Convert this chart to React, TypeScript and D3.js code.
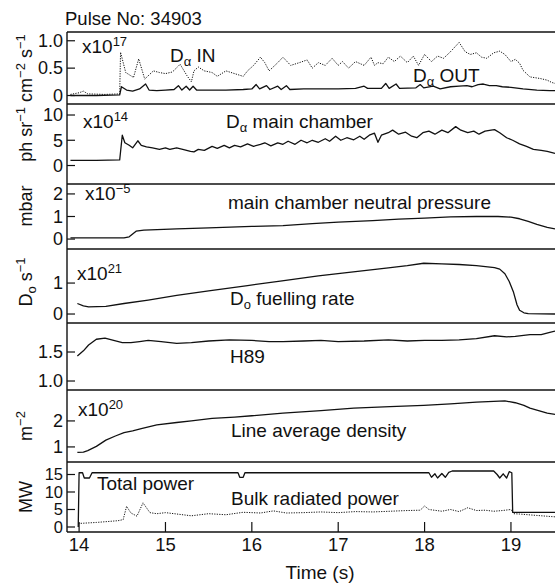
import React from 'react';
import * as d3 from 'd3';

type Pt = [number, number];

// time axis
const timeTicks = [14, 15, 16, 17, 18, 19];

// panel 1: D-alpha in / out (x1e17 ph sr-1 cm-2 s-1)
const daIn: Pt[] = [
  [13.9, 0.02], [14.0, 0.05], [14.05, 0.08], [14.1, 0.03], [14.3, 0.02], [14.47, 0.03], [14.48, 0.79],
  [14.54, 0.42], [14.63, 0.33], [14.69, 0.67], [14.76, 0.3], [14.86, 0.45], [14.93, 0.42], [15.0, 0.4],
  [15.08, 0.43], [15.17, 0.57], [15.25, 0.36], [15.3, 0.25], [15.33, 0.45], [15.38, 0.52], [15.45, 0.45],
  [15.54, 0.42], [15.6, 0.35], [15.7, 0.45], [15.8, 0.4], [15.9, 0.35], [15.95, 0.45], [16.02, 0.55],
  [16.1, 0.7], [16.15, 0.6], [16.2, 0.45], [16.3, 0.6], [16.36, 0.7], [16.45, 0.55], [16.55, 0.6],
  [16.64, 0.65], [16.7, 0.5], [16.77, 0.6], [16.85, 0.55], [16.93, 0.68], [17.0, 0.55], [17.05, 0.62],
  [17.12, 0.5], [17.2, 0.62], [17.3, 0.55], [17.38, 0.7], [17.42, 0.55], [17.46, 0.6], [17.52, 0.58],
  [17.58, 0.7], [17.65, 0.62], [17.72, 0.72], [17.8, 0.6], [17.87, 0.72], [17.93, 0.55], [18.0, 0.75],
  [18.08, 0.62], [18.15, 0.72], [18.22, 0.68], [18.3, 0.8], [18.4, 0.97], [18.47, 0.8], [18.53, 0.75],
  [18.6, 0.78], [18.66, 0.7], [18.72, 0.68], [18.8, 0.78], [18.87, 0.81], [18.93, 0.75], [19.0, 0.62],
  [19.05, 0.66], [19.1, 0.59], [19.14, 0.46], [19.22, 0.34], [19.34, 0.31], [19.42, 0.28], [19.47, 0.24],
  [19.51, 0.22],
];
const daOut: Pt[] = [
  [13.9, 0.0], [14.2, 0.0], [14.47, 0.01], [14.49, 0.16], [14.55, 0.1], [14.62, 0.08], [14.7, 0.12],
  [14.77, 0.21], [14.81, 0.1], [14.9, 0.09], [15.0, 0.1], [15.1, 0.11], [15.15, 0.18], [15.19, 0.1],
  [15.24, 0.17], [15.28, 0.1], [15.32, 0.17], [15.36, 0.1], [15.5, 0.1], [15.7, 0.1], [15.9, 0.11],
  [16.0, 0.12], [16.05, 0.2], [16.09, 0.12], [16.17, 0.18], [16.21, 0.11], [16.3, 0.17], [16.34, 0.11],
  [16.4, 0.18], [16.44, 0.11], [16.6, 0.12], [16.8, 0.12], [17.0, 0.12], [17.2, 0.13], [17.3, 0.17],
  [17.34, 0.13], [17.5, 0.13], [17.55, 0.22], [17.59, 0.13], [17.67, 0.21], [17.71, 0.13], [17.9, 0.14],
  [17.95, 0.2], [17.99, 0.14], [18.1, 0.17], [18.18, 0.12], [18.3, 0.16], [18.4, 0.17], [18.49, 0.18],
  [18.55, 0.16], [18.62, 0.2], [18.68, 0.21], [18.75, 0.18], [18.83, 0.18], [18.9, 0.16], [19.0, 0.15],
  [19.14, 0.12], [19.3, 0.1], [19.45, 0.09], [19.51, 0.09],
];

// panel 2: D-alpha main chamber (x1e14)
const daMain: Pt[] = [
  [13.9, 1.0], [14.2, 1.0], [14.47, 1.1], [14.5, 6.0], [14.53, 4.5], [14.58, 4.0], [14.62, 3.5],
  [14.68, 4.9], [14.72, 4.0], [14.78, 3.7], [14.85, 3.5], [14.93, 3.2], [15.0, 3.5], [15.05, 3.2],
  [15.13, 3.5], [15.2, 3.2], [15.29, 2.8], [15.33, 2.7], [15.38, 3.2], [15.45, 3.0], [15.54, 3.8],
  [15.6, 3.4], [15.68, 4.0], [15.74, 3.5], [15.8, 4.0], [15.87, 3.7], [15.95, 4.3], [16.02, 3.8],
  [16.1, 4.2], [16.15, 4.5], [16.22, 3.9], [16.3, 4.5], [16.36, 4.2], [16.42, 4.8], [16.5, 4.2],
  [16.57, 5.0], [16.64, 4.5], [16.7, 5.0], [16.77, 4.6], [16.85, 5.3], [16.9, 4.8], [16.97, 5.8],
  [17.03, 5.0], [17.1, 5.5], [17.18, 5.1], [17.25, 5.8], [17.3, 5.2], [17.36, 6.0], [17.42, 6.4],
  [17.46, 4.6], [17.5, 6.0], [17.58, 6.5], [17.63, 7.0], [17.7, 6.2], [17.78, 6.6], [17.85, 5.8],
  [17.91, 5.5], [17.98, 6.5], [18.05, 6.8], [18.12, 6.2], [18.2, 7.0], [18.27, 6.5], [18.36, 7.7],
  [18.42, 7.0], [18.5, 6.5], [18.57, 6.8], [18.63, 6.2], [18.7, 6.8], [18.77, 7.0], [18.81, 7.1],
  [18.87, 6.5], [18.95, 5.5], [19.02, 5.0], [19.1, 4.3], [19.18, 3.8], [19.26, 3.2], [19.35, 3.0],
  [19.42, 2.8], [19.51, 2.4],
];

// panel 3: main chamber neutral pressure (x1e-5 mbar)
const pressure: Pt[] = [
  [13.9, 0.05], [14.52, 0.05], [14.58, 0.1], [14.66, 0.35], [14.75, 0.4], [15.13, 0.45], [15.5, 0.5],
  [16.0, 0.56], [16.36, 0.6], [16.7, 0.68], [17.0, 0.75], [17.4, 0.82], [17.7, 0.88], [18.0, 0.93],
  [18.3, 0.98], [18.6, 1.0], [18.85, 1.0], [19.0, 0.97], [19.1, 0.9], [19.2, 0.78], [19.3, 0.65],
  [19.42, 0.52], [19.51, 0.45],
];

// panel 4: D0 fuelling rate (x1e21 s-1)
const fuelling: Pt[] = [
  [13.98, 0.34], [14.05, 0.26], [14.11, 0.23], [14.31, 0.25], [14.52, 0.34], [14.8, 0.45], [15.13, 0.6],
  [15.5, 0.75], [15.95, 0.92], [16.35, 1.07], [16.77, 1.23], [17.2, 1.37], [17.58, 1.49], [17.8, 1.56],
  [17.99, 1.64], [18.2, 1.62], [18.4, 1.6], [18.6, 1.56], [18.81, 1.5], [18.87, 1.45], [18.93, 1.3],
  [18.98, 1.05], [19.03, 0.7], [19.07, 0.3], [19.1, 0.12], [19.15, 0.04], [19.2, 0.01], [19.51, 0.0],
];

// panel 5: H89
const h89: Pt[] = [
  [13.98, 1.43], [14.05, 1.52], [14.11, 1.62], [14.2, 1.72], [14.3, 1.74], [14.4, 1.7], [14.5, 1.66],
  [14.6, 1.66], [14.7, 1.68], [14.8, 1.7], [14.95, 1.68], [15.13, 1.65], [15.3, 1.66], [15.5, 1.69],
  [15.74, 1.71], [16.0, 1.7], [16.2, 1.68], [16.36, 1.68], [16.6, 1.69], [16.8, 1.7], [17.0, 1.68],
  [17.3, 1.69], [17.58, 1.71], [17.8, 1.69], [18.0, 1.7], [18.2, 1.7], [18.4, 1.71], [18.6, 1.73],
  [18.81, 1.78], [18.95, 1.76], [19.05, 1.77], [19.22, 1.8], [19.35, 1.8], [19.45, 1.84], [19.51, 1.86],
];

// panel 6: line average density (x1e20 m-2)
const density: Pt[] = [
  [13.98, 0.79], [14.05, 0.8], [14.1, 0.86], [14.2, 1.02], [14.31, 1.26], [14.42, 1.42], [14.52, 1.55],
  [14.62, 1.62], [14.72, 1.7], [14.9, 1.85], [15.13, 1.94], [15.3, 2.0], [15.54, 2.1], [15.8, 2.15],
  [16.0, 2.2], [16.36, 2.3], [16.8, 2.4], [17.18, 2.49], [17.6, 2.55], [17.99, 2.6], [18.3, 2.66],
  [18.6, 2.72], [18.8, 2.75], [18.93, 2.77], [19.05, 2.7], [19.15, 2.6], [19.22, 2.49], [19.32, 2.4],
  [19.42, 2.3], [19.51, 2.25],
];

// panel 7: total power / bulk radiated power (MW)
const totalPower: Pt[] = [
  [13.99, 0], [14.0, 15.5], [14.04, 15.5], [14.06, 14.0], [14.12, 14.0], [14.15, 15.5], [15.84, 15.5],
  [15.86, 14.2], [15.9, 14.2], [15.92, 15.5], [18.05, 15.5], [18.08, 14.2], [18.12, 15.2], [18.15, 14.0],
  [18.2, 15.3], [18.24, 14.2], [18.28, 15.6], [18.32, 16.0], [18.8, 16.0], [18.84, 15.0], [18.87, 14.0],
  [18.91, 15.2], [18.95, 14.0], [18.98, 15.8], [19.01, 15.5], [19.02, 4.2], [19.51, 4.2],
];
const bulkRad: Pt[] = [
  [13.99, 1.0], [14.2, 1.3], [14.45, 1.8], [14.51, 2.1], [14.55, 5.9], [14.6, 4.0], [14.67, 3.1],
  [14.74, 6.9], [14.82, 4.1], [14.9, 3.8], [15.0, 4.1], [15.1, 3.8], [15.3, 3.2], [15.5, 3.8],
  [15.7, 3.5], [15.9, 4.2], [16.1, 4.0], [16.25, 4.6], [16.4, 4.0], [16.6, 4.1], [16.8, 4.3],
  [17.0, 4.1], [17.2, 4.4], [17.4, 4.3], [17.6, 4.5], [17.8, 4.7], [17.95, 4.8], [18.0, 6.0],
  [18.05, 5.0], [18.2, 4.5], [18.3, 5.0], [18.4, 4.4], [18.5, 5.5], [18.6, 4.7], [18.7, 4.8],
  [18.8, 4.5], [18.9, 4.7], [19.0, 5.0], [19.03, 3.8], [19.1, 3.7], [19.3, 3.3], [19.51, 2.9],
];

const FONT = '"Liberation Sans", Arial, Helvetica, sans-serif';
const AX = 67;
const RIGHT = 555;
const BOTTOM = 532;
const SM = 13; // sub/superscript size

const x = d3.scaleLinear().domain([13.86, 19.51]).range([AX, RIGHT]);

interface Panel {
  top: number;
  bottom: number;
  domain: [number, number];
  ticks: number[];
  labels: string[];
  tickSize: number;
  series: { data: Pt[]; dotted?: boolean }[];
}

const panels: Panel[] = [
  { top: 32, bottom: 104, domain: [-0.155, 1.16], ticks: [1, 0.5, 0], labels: ['1.0', '0.5', '0'], tickSize: 18,
    series: [{ data: daIn, dotted: true }, { data: daOut }] },
  { top: 104, bottom: 184, domain: [-3.66, 12.18], ticks: [10, 5, 0], labels: ['10', '5', '0'], tickSize: 18,
    series: [{ data: daMain }] },
  { top: 184, bottom: 249, domain: [-0.44, 2.44], ticks: [2, 1, 0], labels: ['2', '1', '0'], tickSize: 18,
    series: [{ data: pressure }] },
  { top: 249, bottom: 323, domain: [-0.29, 2.1], ticks: [1, 0], labels: ['1', '0'], tickSize: 18,
    series: [{ data: fuelling }] },
  { top: 323, bottom: 390, domain: [0.845, 2.0], ticks: [1.5, 1.0], labels: ['1.5', '1.0'], tickSize: 18,
    series: [{ data: h89 }] },
  { top: 390, bottom: 462, domain: [0.42, 3.19], ticks: [2, 1], labels: ['2', '1'], tickSize: 18,
    series: [{ data: density }] },
  { top: 462, bottom: BOTTOM, domain: [-1.43, 18.57], ticks: [15, 10, 5, 0], labels: ['15', '10', '5', '0'], tickSize: 16.5,
    series: [{ data: totalPower }, { data: bulkRad, dotted: true }] },
];

export default function App() {
  return (
    <svg width={555} height={586} style={{ position: 'absolute', left: 0, top: 0, background: '#fff' }}
      fontFamily={FONT} fill="#111">
      <defs>
        <clipPath id="plotclip"><rect x={AX} y={32} width={RIGHT - AX} height={BOTTOM - 32} /></clipPath>
      </defs>
      <text x={65} y={25} fontSize={18.5}>Pulse No: 34903</text>

      {panels.map((p, i) => {
        const y = d3.scaleLinear().domain(p.domain).range([p.bottom, p.top]);
        const line = d3.line<Pt>().x(d => x(d[0])).y(d => y(d[1]));
        return (
          <g key={i}>
            {p.series.map((s, j) => (
              <path key={j} d={line(s.data) || ''} fill="none" stroke="#111"
                strokeWidth={s.dotted ? 1 : 1.3} strokeDasharray={s.dotted ? '1.2,1.3' : undefined}
                strokeLinejoin="round" clipPath="url(#plotclip)" />
            ))}
            {p.ticks.map((t, k) => (
              <g key={k}>
                <line x1={AX} x2={AX + 8} y1={y(t)} y2={y(t)} stroke="#111" strokeWidth={1.2} />
                <text x={63} y={y(t) + p.tickSize * 0.35} fontSize={p.tickSize} textAnchor="end">{p.labels[k]}</text>
              </g>
            ))}
            <line x1={AX} x2={RIGHT} y1={p.bottom} y2={p.bottom} stroke="#111" strokeWidth={1.4} />
          </g>
        );
      })}

      <line x1={AX} x2={RIGHT} y1={32} y2={32} stroke="#111" strokeWidth={1.4} />
      <line x1={AX} x2={AX} y1={32} y2={BOTTOM} stroke="#111" strokeWidth={1.4} />

      {timeTicks.map(t => (
        <g key={t}>
          <line x1={x(t)} x2={x(t)} y1={BOTTOM} y2={BOTTOM - 10} stroke="#111" strokeWidth={1.2} />
          <text x={x(t)} y={551} fontSize={18.5} textAnchor="middle">{t}</text>
        </g>
      ))}
      <text x={320} y={579} fontSize={19} textAnchor="middle">Time (s)</text>

      {/* y-axis titles */}
      <text transform="translate(32,98) rotate(-90)" fontSize={18} textAnchor="middle">
        <tspan>ph sr</tspan>
        <tspan dy={-7} fontSize={SM}>{'\u22121'}</tspan>
        <tspan dy={7}> cm</tspan>
        <tspan dy={-7} fontSize={SM}>{'\u22122'}</tspan>
        <tspan dy={7}> s</tspan>
        <tspan dy={-7} fontSize={SM}>{'\u22121'}</tspan>
      </text>
      <text transform="translate(32,206) rotate(-90)" fontSize={18} textAnchor="middle">mbar</text>
      <text transform="translate(32,282) rotate(-90)" fontSize={18} textAnchor="middle">
        <tspan>D</tspan>
        <tspan dy={4} fontSize={SM}>o</tspan>
        <tspan dy={-4}> s</tspan>
        <tspan dy={-7} fontSize={SM}>{'\u22121'}</tspan>
      </text>
      <text transform="translate(32,426) rotate(-90)" fontSize={18} textAnchor="middle">
        <tspan>m</tspan>
        <tspan dy={-7} fontSize={SM}>{'\u22122'}</tspan>
      </text>
      <text transform="translate(32,497) rotate(-90)" fontSize={18} textAnchor="middle">MW</text>

      {/* annotations */}
      <text x={82} y={53} fontSize={19}>x10<tspan dy={-7} fontSize={SM}>17</tspan></text>
      <text x={170} y={62} fontSize={19}>D<tspan dy={4} fontSize={SM}>{'\u03b1'}</tspan><tspan dy={-4}> IN</tspan></text>
      <text x={413} y={82} fontSize={19}>D<tspan dy={4} fontSize={SM}>{'\u03b1'}</tspan><tspan dy={-4}> OUT</tspan></text>
      <text x={83} y={128} fontSize={19}>x10<tspan dy={-7} fontSize={SM}>14</tspan></text>
      <text x={226} y={128} fontSize={19}>D<tspan dy={4} fontSize={SM}>{'\u03b1'}</tspan><tspan dy={-4}> main chamber</tspan></text>
      <text x={85} y={200} fontSize={19}>x10<tspan dy={-7} fontSize={SM}>{'\u22125'}</tspan></text>
      <text x={228} y={209} fontSize={19}>main chamber neutral pressure</text>
      <text x={77} y={280} fontSize={19}>x10<tspan dy={-7} fontSize={SM}>21</tspan></text>
      <text x={230} y={305} fontSize={19}>D<tspan dy={4} fontSize={SM}>o</tspan><tspan dy={-4}> fuelling rate</tspan></text>
      <text x={230} y={363} fontSize={19}>H89</text>
      <text x={78} y={416} fontSize={19}>x10<tspan dy={-7} fontSize={SM}>20</tspan></text>
      <text x={231} y={437} fontSize={19}>Line average density</text>
      <text x={97} y={490} fontSize={19}>Total power</text>
      <text x={231} y={505} fontSize={19}>Bulk radiated power</text>
    </svg>
  );
}
